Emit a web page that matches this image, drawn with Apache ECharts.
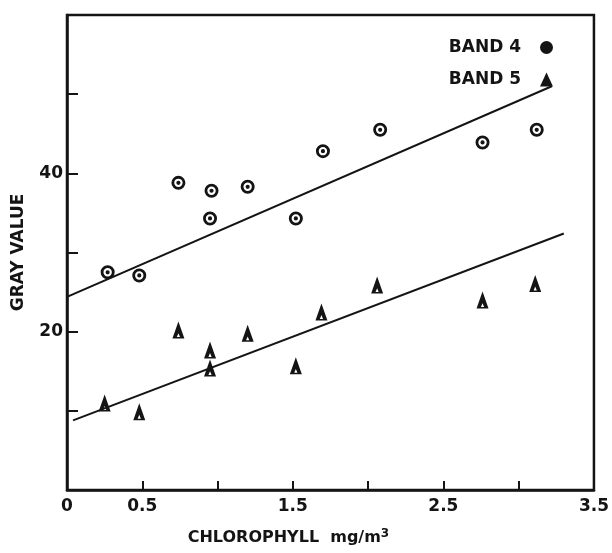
<!DOCTYPE html>
<html>
<head>
<meta charset="utf-8">
<script src="https://cdn.jsdelivr.net/npm/echarts@6/dist/echarts.min.js"></script>
<style>
  html, body { margin: 0; padding: 0; background: #fff; }
  #chart { width: 612px; height: 553px; }
</style>
</head>
<body>
<div id="chart"></div>
<script>
var fontFamily = 'DejaVu Sans, Liberation Sans, sans-serif';
var ink = '#141414';

// chlorophyll (mg/m3) and gray value
var band4Chl = [0.27, 0.48, 0.74, 0.96, 0.95, 1.20, 1.52, 1.70, 2.08, 2.76, 3.12];
var band4Gray = [27.5, 27.1, 38.8, 37.8, 34.3, 38.3, 34.3, 42.8, 45.5, 43.9, 45.5];
var band5Chl = [0.25, 0.48, 0.74, 0.95, 0.95, 1.20, 1.52, 1.69, 2.06, 2.76, 3.11];
var band5Gray = [11.0, 9.9, 20.2, 17.7, 15.4, 19.8, 15.7, 22.5, 25.9, 24.0, 26.1];

// fitted lines, end points
var fit4 = [[0, 24.4], [3.22, 51.0]];
var fit5 = [[0.04, 8.8], [3.30, 32.4]];

var xLabels = ['0', '0.5', '1.5', '2.5', '3.5'];
var yLabels = ['20', '40'];

function zip(xs, ys) {
    return xs.map(function (x, i) { return [x, ys[i]]; });
}

// ring with a dot in the middle
var ringSymbol = 'path://M0 -10A10 10 0 1 1 0 10A10 10 0 1 1 0 -10Z' +
    'M0 -6A6 6 0 1 0 0 6A6 6 0 1 0 0 -6Z' +
    'M0 -3A3 3 0 1 1 0 3A3 3 0 1 1 0 -3Z';
// solid triangle with a small hole near its base
var triSymbol = 'path://M0 0L6 16L-6 16Z M0 11L-1.6 14.6L1.6 14.6Z';

var chart = echarts.init(document.getElementById('chart'));

var option = {
    backgroundColor: '#fff',
    animation: false,
    textStyle: { fontFamily: fontFamily, color: ink },
    legend: {
        orient: 'vertical',
        align: 'right',
        right: 54,
        top: 34,
        itemGap: 15,
        itemWidth: 13,
        itemHeight: 14,
        selectedMode: false,
        textStyle: {
            fontFamily: fontFamily,
            fontSize: 17,
            fontWeight: 'bold',
            color: ink,
            padding: [0, 14, 0, 0]
        },
        data: [
            { name: 'BAND 4', icon: 'circle' },
            { name: 'BAND 5', icon: 'triangle' }
        ]
    },
    grid: {
        left: 67,
        right: 17,
        top: 15,
        bottom: 63,
        show: true,
        borderColor: ink,
        borderWidth: 2.5
    },
    xAxis: {
        type: 'value',
        min: 0,
        max: 3.5,
        interval: 0.5,
        name: '{a|CHLOROPHYLL  mg/m}{s|3}',
        nameLocation: 'middle',
        nameGap: 38,
        nameTextStyle: {
            padding: [0, 84, 0, 0],
            rich: {
                a: { fontFamily: fontFamily, fontSize: 16, fontWeight: 'bold', color: ink },
                s: { fontFamily: fontFamily, fontSize: 12, fontWeight: 'bold', color: ink, verticalAlign: 'bottom', padding: [0, 0, 8, 0] }
            }
        },
        splitLine: { show: false },
        axisLine: { lineStyle: { color: ink, width: 2.5 } },
        axisTick: { inside: true, length: 9, lineStyle: { color: ink, width: 2 } },
        axisLabel: {
            margin: 8,
            fontSize: 17,
            fontWeight: 'bold',
            color: ink,
            formatter: function (v) {
                var s = String(v);
                return xLabels.indexOf(s) >= 0 ? s : '';
            }
        }
    },
    yAxis: {
        type: 'value',
        min: 0,
        max: 60,
        interval: 10,
        name: 'GRAY VALUE',
        nameLocation: 'middle',
        nameGap: 40,
        nameTextStyle: { fontFamily: fontFamily, fontSize: 17, fontWeight: 'bold', color: ink },
        splitLine: { show: false },
        axisLine: { lineStyle: { color: ink, width: 2.5 } },
        axisTick: { inside: true, length: 11, lineStyle: { color: ink, width: 2 } },
        axisLabel: {
            margin: 4,
            fontSize: 17,
            fontWeight: 'bold',
            color: ink,
            formatter: function (v) {
                var s = String(v);
                return yLabels.indexOf(s) >= 0 ? s : '';
            }
        }
    },
    series: [
        {
            name: 'BAND 4',
            type: 'scatter',
            symbol: ringSymbol,
            symbolSize: 14,
            itemStyle: { color: ink, opacity: 1 },
            data: zip(band4Chl, band4Gray),
            z: 3
        },
        {
            name: 'BAND 5',
            type: 'scatter',
            symbol: triSymbol,
            symbolSize: [12, 17],
            itemStyle: { color: ink, opacity: 1 },
            data: zip(band5Chl, band5Gray),
            z: 3
        },
        {
            name: 'fit4',
            type: 'line',
            data: fit4,
            showSymbol: false,
            lineStyle: { color: ink, width: 2 },
            z: 2
        },
        {
            name: 'fit5',
            type: 'line',
            data: fit5,
            showSymbol: false,
            lineStyle: { color: ink, width: 2 },
            z: 2
        }
    ]
};

chart.setOption(option);
</script>
</body>
</html>
